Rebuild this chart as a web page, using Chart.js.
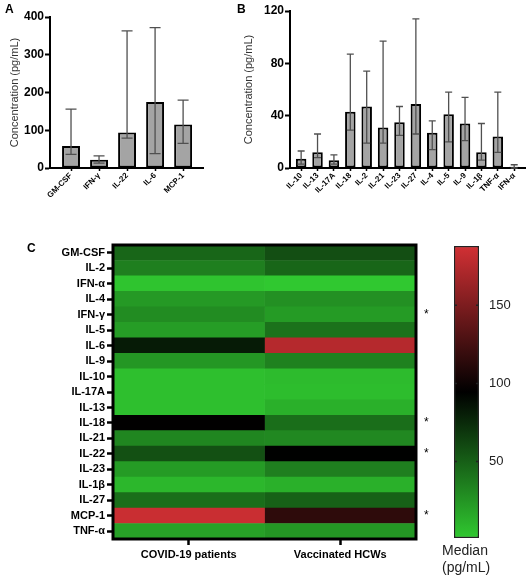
<!DOCTYPE html>
<html>
<head>
<meta charset="utf-8">
<script src="https://cdn.jsdelivr.net/npm/chart.js@4.4.0/dist/chart.umd.min.js"></script>
<style>
  body { margin: 0; background: #fff; font-family: "Liberation Sans", Arial, sans-serif; }
  #wrap { position: relative; width: 526px; height: 576px; overflow: hidden; }
  canvas { position: absolute; }
  .tag { position: absolute; font-weight: bold; font-size: 12px; color: #000; }
  #median { position: absolute; left: 442px; top: 542px; font-size: 14px; line-height: 17px; color: #222; }
</style>
</head>
<body>
<div id="wrap">
  <canvas id="chartA" width="210" height="200" style="left:0;top:0"></canvas>
  <canvas id="chartB" width="306" height="200" style="left:220px;top:0"></canvas>
  <canvas id="heat" width="440" height="376" style="left:0;top:200px"></canvas>
  <canvas id="cbar" width="86" height="376" style="left:440px;top:200px"></canvas>
  <div class="tag" style="left:5px;top:2px">A</div>
  <div class="tag" style="left:237px;top:2px">B</div>
  <div class="tag" style="left:27px;top:241px">C</div>
  <div id="median">Median<br>(pg/mL)</div>
</div>
<script>
// Panel A - median with range
const cytoA = ['GM-CSF', 'IFN-γ', 'IL-22', 'IL-6', 'MCP-1'];
const medianA = [58, 22, 94, 175, 115];
const lowA = [36, 13, 79, 38, 65];
const highA = [156, 32, 363, 372, 180];

// Panel B
const cytoB = ['IL-10', 'IL-13', 'IL-17A', 'IL-18', 'IL-2', 'IL-21', 'IL-23', 'IL-27', 'IL-4', 'IL-5', 'IL-9', 'IL-1β', 'TNF-α', 'IFN-α'];
const medianB = [7, 12, 6, 43, 47, 31, 35, 49, 27, 41, 34, 12, 24, 1];
const lowB = [3, 8, 3, 29, 19, 19, 25, 26, 14, 20, 21, 6, 12, 0];
const highB = [13, 26, 10, 87, 74, 97, 47, 114, 36, 58, 54, 34, 58, 2.5];

// Panel C - heatmap of medians
const heatCyto = ['GM-CSF', 'IL-2', 'IFN-α', 'IL-4', 'IFN-γ', 'IL-5', 'IL-6', 'IL-9', 'IL-10', 'IL-17A', 'IL-13', 'IL-18', 'IL-21', 'IL-22', 'IL-23', 'IL-1β', 'IL-27', 'MCP-1', 'TNF-α'];
const groups = ['COVID-19 patients', 'Vaccinated HCWs'];
const covidMedian = [47, 35, 3, 23, 29, 21, 82, 24, 5, 5, 5, 95, 32, 57, 22, 9, 43, 184, 19];
const vaccMedian = [58, 47, 1, 27, 22, 41, 175, 34, 7, 6, 12, 43, 31, 94, 35, 12, 49, 115, 24];
const stars = ['', '', '', '', '*', '', '', '', '', '', '', '*', '', '*', '', '', '', '*', ''];

// colour scale
const cbMin = 1;
const cbMax = 188;
const cbTicks = [50, 100, 150];
const cbMid = (cbMin + cbMax) / 2;
const lowColor = [48, 200, 48];
const highColor = [210, 48, 52];

function heatColor(v) {
  let c;
  if (v <= cbMid) {
    const t = Math.max(0, (v - cbMin) / (cbMid - cbMin));
    c = lowColor.map(k => k * (1 - t));
  } else {
    const t = Math.min(1, (v - cbMid) / (cbMax - cbMid));
    c = highColor.map(k => k * t);
  }
  return 'rgb(' + c.map(Math.round).join(',') + ')';
}

// error bars drawn from the y scale
const errorBars = {
  id: 'errorBars',
  afterDatasetsDraw(chart, args, opts) {
    if (!opts.low) return;
    const ctx = chart.ctx;
    const y = chart.scales.y;
    ctx.save();
    ctx.strokeStyle = '#505050';
    ctx.lineWidth = 1.3;
    chart.getDatasetMeta(0).data.forEach((bar, i) => {
      const yl = y.getPixelForValue(opts.low[i]);
      const yh = y.getPixelForValue(opts.high[i]);
      const w = opts.cap / 2;
      ctx.beginPath();
      ctx.moveTo(bar.x, yl); ctx.lineTo(bar.x, yh);
      ctx.moveTo(bar.x - w, yl); ctx.lineTo(bar.x + w, yl);
      ctx.moveTo(bar.x - w, yh); ctx.lineTo(bar.x + w, yh);
      ctx.stroke();
    });
    ctx.restore();
  }
};

function barChart(id, labels, med, low, high, yMax, step, cfg) {
  new Chart(document.getElementById(id), {
    type: 'bar',
    data: {
      datasets: [{
        data: med.map((v, i) => ({ x: i, y: v })),
        backgroundColor: '#a4a4a4',
        borderColor: '#000',
        borderWidth: 2,
        borderSkipped: false,
        barPercentage: cfg.barPct,
        categoryPercentage: 1
      }]
    },
    plugins: [errorBars],
    options: {
      responsive: false,
      animation: false,
      layout: { padding: { left: 0, top: cfg.top, right: cfg.right, bottom: 0 } },
      scales: {
        x: {
          type: 'linear',
          offset: false,
          min: cfg.xMin,
          max: cfg.xMax,
          afterBuildTicks: s => { s.ticks = labels.map((l, i) => ({ value: i })); },
          ticks: { color: '#000', font: { weight: 'bold', size: 8 }, minRotation: 45, maxRotation: 45, autoSkip: false, padding: 0,
                   callback: v => labels[v] },
          grid: { drawOnChartArea: false, offset: false, tickLength: 3, tickWidth: 1.5, tickColor: '#000' },
          border: { color: '#000', width: 2 },
          afterFit: s => { s.height = 32; }
        },
        y: {
          min: 0,
          max: yMax,
          ticks: { stepSize: step, color: '#000', font: { weight: 'bold', size: 12 }, padding: 1 },
          grid: { drawOnChartArea: false, tickLength: 5, tickWidth: 2, tickColor: '#000' },
          border: { color: '#000', width: 2 },
          title: { display: true, text: 'Concentration (pg/mL)', color: '#333', font: { size: 11 }, padding: { top: cfg.titlePad, bottom: 0 } },
          afterFit: s => { s.width = cfg.yWidth; }
        }
      },
      plugins: {
        legend: { display: false },
        tooltip: { enabled: false },
        errorBars: { low: low, high: high, cap: cfg.cap }
      }
    }
  });
}

barChart('chartA', cytoA, medianA, lowA, highA, 400, 100,
  { top: 17, right: 7, yWidth: 50, titlePad: 8, barPct: 0.64, cap: 11, xMin: -0.75, xMax: 4.71 });
barChart('chartB', cytoB, medianB, lowB, highB, 120, 40,
  { top: 11, right: 0, yWidth: 70, titlePad: 22.5, barPct: 0.64, cap: 7, xMin: -0.68, xMax: 13.72 });

// Heatmap frame
const frame = {
  id: 'frame',
  afterDraw(chart) {
    const a = chart.chartArea;
    const ctx = chart.ctx;
    ctx.save();
    ctx.strokeStyle = '#000';
    ctx.lineWidth = 3;
    ctx.strokeRect(a.left, a.top, a.right - a.left, a.bottom - a.top);
    ctx.restore();
  }
};

new Chart(document.getElementById('heat'), {
  type: 'bar',
  data: {
    labels: heatCyto,
    datasets: [
      { label: groups[0], data: covidMedian.map(() => 1), backgroundColor: covidMedian.map(heatColor) },
      { label: groups[1], data: vaccMedian.map(() => 1), backgroundColor: vaccMedian.map(heatColor) }
    ]
  },
  plugins: [frame],
  options: {
    indexAxis: 'y',
    responsive: false,
    animation: false,
    datasets: { bar: { barPercentage: 1, categoryPercentage: 1, borderWidth: 0 } },
    layout: { padding: { left: 0, top: 45, right: 0, bottom: 0 } },
    scales: {
      x: {
        stacked: true,
        min: 0,
        max: 2,
        afterBuildTicks: s => { s.ticks = groups.map((g, i) => ({ value: i + 0.5 })); },
        ticks: { color: '#000', font: { weight: 'bold', size: 11 }, padding: 3, callback: v => groups[Math.floor(v)] },
        grid: { drawOnChartArea: false, tickLength: 6, tickWidth: 2.5, tickColor: '#000' },
        border: { display: false },
        afterFit: s => { s.height = 37; }
      },
      y: {
        stacked: true,
        ticks: { color: '#000', font: { weight: 'bold', size: 11 }, padding: 2, autoSkip: false },
        grid: { drawOnChartArea: false, offset: false, tickLength: 6, tickWidth: 2.5, tickColor: '#000' },
        border: { display: false },
        afterFit: s => { s.width = 113; }
      },
      y2: {
        type: 'category',
        labels: stars,
        position: 'right',
        offset: true,
        ticks: { color: '#000', font: { size: 12 }, padding: 0, autoSkip: false },
        grid: { display: false },
        border: { display: false },
        afterFit: s => { s.width = 24; }
      }
    },
    plugins: { legend: { display: false }, tooltip: { enabled: false } }
  }
});

// Colour bar
const cbarMarks = {
  id: 'cbarMarks',
  afterDatasetsDraw(chart) {
    const a = chart.chartArea;
    const y = chart.scales.y;
    const ctx = chart.ctx;
    ctx.save();
    ctx.strokeStyle = '#222';
    ctx.lineWidth = 1.5;
    cbTicks.forEach(v => {
      const p = y.getPixelForValue(v);
      ctx.beginPath();
      ctx.moveTo(a.left, p); ctx.lineTo(a.left + 3, p);
      ctx.moveTo(a.right - 3, p); ctx.lineTo(a.right, p);
      ctx.stroke();
    });
    ctx.restore();
  }
};

new Chart(document.getElementById('cbar'), {
  type: 'bar',
  data: {
    labels: [''],
    datasets: [{
      data: [[cbMin, cbMax]],
      backgroundColor: c => {
        const ch = c.chart;
        if (!ch.chartArea) return '#000';
        const ys = ch.scales.y;
        const g = ch.ctx.createLinearGradient(0, ys.getPixelForValue(cbMin), 0, ys.getPixelForValue(cbMax));
        g.addColorStop(0, heatColor(cbMin));
        g.addColorStop(0.5, heatColor(cbMid));
        g.addColorStop(1, heatColor(cbMax));
        return g;
      },
      borderColor: '#222',
      borderWidth: 1.5,
      borderSkipped: false,
      barPercentage: 1,
      categoryPercentage: 1
    }]
  },
  plugins: [cbarMarks],
  options: {
    responsive: false,
    animation: false,
    layout: { padding: { left: 14, top: 46, right: 0, bottom: 38 } },
    scales: {
      x: { display: false },
      y: {
        position: 'right',
        min: cbMin,
        max: cbMax,
        afterBuildTicks: s => { s.ticks = cbTicks.map(v => ({ value: v })); },
        ticks: { color: '#222', font: { size: 13 }, padding: 2 },
        grid: { display: false },
        border: { display: false },
        afterFit: s => { s.width = 47; }
      }
    },
    plugins: { legend: { display: false }, tooltip: { enabled: false } }
  }
});
</script>
</body>
</html>
